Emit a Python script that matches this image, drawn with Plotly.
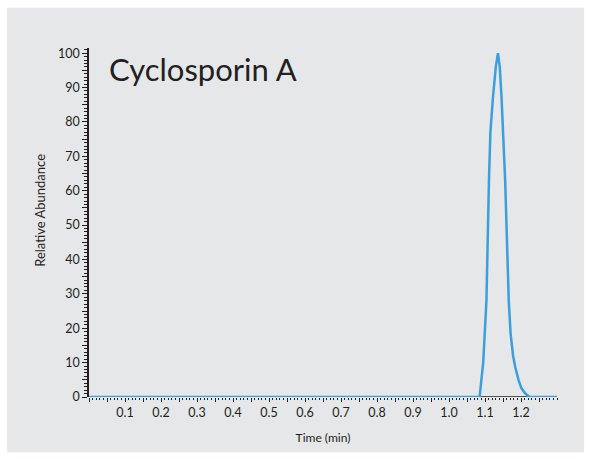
import plotly.graph_objects as go

# Extracted ion chromatogram for cyclosporin A
time_min = [0.0, 0.2, 0.4, 0.6, 0.8, 1.0, 1.085, 1.095, 1.104, 1.111, 1.115, 1.122,
            1.130, 1.136, 1.141, 1.146, 1.150, 1.156, 1.166, 1.171, 1.178, 1.184,
            1.193, 1.201, 1.212, 1.224, 1.26, 1.30]
rel_abundance = [0, 0, 0, 0, 0, 0, 0, 10, 28, 63, 77, 87,
                 96, 100, 96, 87, 77, 63, 28, 18.6, 12, 8.7,
                 5, 2.6, 1, 0, 0, 0]

x_tick_vals = [round(0.05 * i, 2) for i in range(0, 26)]
x_tick_text = [f"{v:.1f}" if (i % 2 == 0 and 0 < v <= 1.2) else "" for i, v in enumerate(x_tick_vals)]
y_tick_vals = list(range(0, 101, 5))
y_tick_text = [str(v) if v % 10 == 0 else "" for v in y_tick_vals]

title_text = "Cyclosporin A"
x_title = "Time (min)"
y_title = "Relative Abundance"

panel = "#e6e7e8"
ink = "#231f20"
font_family = "Lato, 'Open Sans', sans-serif"

fig = go.Figure()
fig.add_trace(go.Scatter(
    x=time_min, y=rel_abundance, mode="lines",
    line=dict(color="#3a9fdc", width=2.5),
    hoverinfo="skip", showlegend=False, cliponaxis=False,
))

fig.update_layout(
    width=589, height=459,
    margin=dict(l=89, r=32, t=48, b=62),
    paper_bgcolor="white",
    plot_bgcolor=panel,
    font=dict(family=font_family, color=ink, size=12),
    shapes=[dict(type="rect", xref="paper", yref="paper",
                 x0=-0.175, x1=1.058, y0=-0.158, y1=1.115,
                 fillcolor=panel, line=dict(width=0), layer="below")],
    annotations=[
        dict(text=title_text, xref="paper", yref="paper",
             x=0.038, y=0.94, xanchor="left", yanchor="middle",
             showarrow=False, font=dict(size=31, color=ink)),
        dict(text=y_title, xref="paper", yref="paper",
             x=-0.105, y=0.536, xanchor="center", yanchor="middle",
             textangle=-90, showarrow=False, font=dict(size=13, color=ink)),
    ],
    xaxis=dict(
        range=[0, 1.3], showgrid=False, zeroline=False,
        showline=False,
        ticks="outside", ticklen=4, tickwidth=1, tickcolor=ink,
        tickvals=x_tick_vals, ticktext=x_tick_text,
        tickfont=dict(size=12.5),
        minor=dict(dtick=0.01, tick0=0, ticks="outside", ticklen=2,
                   tickcolor=ink, showgrid=False),
        title=dict(text=x_title, font=dict(size=12), standoff=14),
    ),
    yaxis=dict(
        range=[0, 101.5], showgrid=False, zeroline=False,
        showline=True, linecolor=ink, linewidth=1.5,
        ticks="outside", ticklen=5, tickwidth=1, tickcolor=ink,
        tickvals=y_tick_vals, ticktext=y_tick_text,
        tickfont=dict(size=12.5),
        minor=dict(dtick=1, tick0=0, ticks="outside", ticklen=3,
                   tickcolor=ink, showgrid=False),
    ),
)

# x-axis baseline drawn beneath the trace
fig.add_shape(type="line", xref="x", yref="y", x0=0, x1=1.3, y0=0, y1=0,
              line=dict(color=ink, width=1.5), layer="below")

fig.write_html("out.html")
